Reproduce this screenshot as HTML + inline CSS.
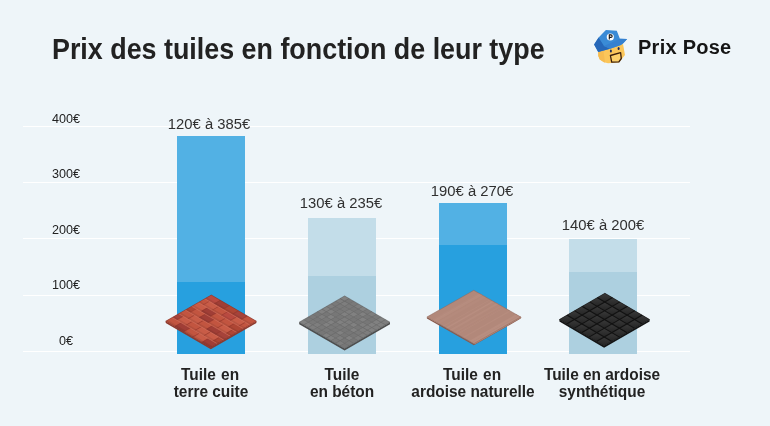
<!DOCTYPE html>
<html><head><meta charset="utf-8">
<style>
html,body{margin:0;padding:0;}
body{width:770px;height:426px;background:#EEF5F9;position:relative;overflow:hidden;font-family:"Liberation Sans",sans-serif;color:#222;}
.a{position:absolute;white-space:nowrap;}
.a,.ax,.val,.cat{filter:grayscale(1);}
.title{left:52px;top:32.2px;font-size:29.4px;font-weight:bold;color:#222;line-height:34px;transform-origin:0 0;transform:scaleX(0.914);}
.logo{left:638px;top:35.5px;font-size:20px;letter-spacing:0.26px;font-weight:bold;color:#151515;line-height:22px;}
.grid{position:absolute;left:23px;width:667px;height:1px;background:#fff;}
.ax{position:absolute;width:40px;left:46px;text-align:center;font-size:12.6px;line-height:14px;color:#222;}
.bar{position:absolute;width:68px;}
.val{position:absolute;width:120px;text-align:center;font-size:15.2px;transform:scaleX(0.975);line-height:17px;color:#303030;}
.ov{position:absolute;left:0;top:0;}
.cat{position:absolute;width:160px;text-align:center;font-size:16.4px;font-weight:bold;line-height:17px;color:#222;transform:scaleX(0.94);}
</style></head><body>
<div class="a title">Prix des tuiles en fonction de leur type</div>
<div class="a logo">Prix Pose</div>

<div class="grid" style="top:126px"></div>
<div class="grid" style="top:182px"></div>
<div class="grid" style="top:238px"></div>
<div class="grid" style="top:295px"></div>
<div class="grid" style="top:351px"></div>

<div class="ax" style="top:112px">400€</div>
<div class="ax" style="top:167px">300€</div>
<div class="ax" style="top:223px">200€</div>
<div class="ax" style="top:278px">100€</div>
<div class="ax" style="top:334px">0€</div>

<!-- bars -->
<div class="bar" style="left:177px;top:136px;height:218px;background:#52B1E4"></div>
<div class="bar" style="left:177px;top:282px;height:72px;background:#27A0DF"></div>

<div class="bar" style="left:308px;top:218px;height:136px;background:#C3DDE9"></div>
<div class="bar" style="left:308px;top:276px;height:78px;background:#ADD0E0"></div>

<div class="bar" style="left:439px;top:203px;height:151px;background:#52B1E4"></div>
<div class="bar" style="left:439px;top:245px;height:109px;background:#27A0DF"></div>

<div class="bar" style="left:569px;top:239px;height:115px;background:#C3DDE9"></div>
<div class="bar" style="left:569px;top:272px;height:82px;background:#ADD0E0"></div>

<div class="val" style="left:149px;top:114.8px">120€ à 385€</div>
<div class="val" style="left:280.5px;top:193.6px">130€ à 235€</div>
<div class="val" style="left:412px;top:182.2px">190€ à 270€</div>
<div class="val" style="left:543px;top:215.8px">140€ à 200€</div>

<svg class="ov" width="770" height="426" viewBox="0 0 770 426"><polygon points="165.7,321.2 210.79999999999995,347.4 256.4,321.2 256.4,323.0 210.79999999999995,349.2 165.7,323.0" fill="#8E3A2E"/>
<g transform="matrix(9.0200,5.2400,-6.5143,3.7429,211.30,295.00)"><rect x="0" y="0" width="5" height="7" fill="#B44C3E"/><rect x="0.00" y="0" width="1.00" height="1" fill="#B94A40"/><rect x="0.00" y="0.7" width="1.00" height="0.3" fill="#000" fill-opacity="0.08"/><rect x="1.00" y="0" width="1.00" height="1" fill="#A03E36"/><rect x="1.00" y="0.7" width="1.00" height="0.3" fill="#000" fill-opacity="0.08"/><rect x="0.96" y="0" width="0.08" height="1" fill="#8A3228" fill-opacity="0.6"/><rect x="2.00" y="0" width="1.00" height="1" fill="#AE4634"/><rect x="2.00" y="0.7" width="1.00" height="0.3" fill="#000" fill-opacity="0.08"/><rect x="1.96" y="0" width="0.08" height="1" fill="#8A3228" fill-opacity="0.6"/><rect x="3.00" y="0" width="1.00" height="1" fill="#A6433A"/><rect x="3.00" y="0.7" width="1.00" height="0.3" fill="#000" fill-opacity="0.08"/><rect x="2.96" y="0" width="0.08" height="1" fill="#8A3228" fill-opacity="0.6"/><rect x="4.00" y="0" width="1.00" height="1" fill="#C25540"/><rect x="4.00" y="0.7" width="1.00" height="0.3" fill="#000" fill-opacity="0.08"/><rect x="3.96" y="0" width="0.08" height="1" fill="#8A3228" fill-opacity="0.6"/><rect x="0.00" y="1" width="0.50" height="1" fill="#C25540"/><rect x="0.00" y="1.7" width="0.50" height="0.3" fill="#000" fill-opacity="0.08"/><rect x="0.50" y="1" width="1.00" height="1" fill="#C85C47"/><rect x="0.50" y="1.7" width="1.00" height="0.3" fill="#000" fill-opacity="0.08"/><rect x="0.46" y="1" width="0.08" height="1" fill="#8A3228" fill-opacity="0.6"/><rect x="1.50" y="1" width="1.00" height="1" fill="#C25540"/><rect x="1.50" y="1.7" width="1.00" height="0.3" fill="#000" fill-opacity="0.08"/><rect x="1.46" y="1" width="0.08" height="1" fill="#8A3228" fill-opacity="0.6"/><rect x="2.50" y="1" width="1.00" height="1" fill="#B94A40"/><rect x="2.50" y="1.7" width="1.00" height="0.3" fill="#000" fill-opacity="0.08"/><rect x="2.46" y="1" width="0.08" height="1" fill="#8A3228" fill-opacity="0.6"/><rect x="3.50" y="1" width="1.00" height="1" fill="#C85C47"/><rect x="3.50" y="1.7" width="1.00" height="0.3" fill="#000" fill-opacity="0.08"/><rect x="3.46" y="1" width="0.08" height="1" fill="#8A3228" fill-opacity="0.6"/><rect x="4.50" y="1" width="0.50" height="1" fill="#C25540"/><rect x="4.50" y="1.7" width="0.50" height="0.3" fill="#000" fill-opacity="0.08"/><rect x="4.46" y="1" width="0.08" height="1" fill="#8A3228" fill-opacity="0.6"/><rect x="0" y="0.94" width="5" height="0.12" fill="#D87A66" fill-opacity="0.55"/><rect x="0.00" y="2" width="1.00" height="1" fill="#C85C47"/><rect x="0.00" y="2.7" width="1.00" height="0.3" fill="#000" fill-opacity="0.08"/><rect x="1.00" y="2" width="1.00" height="1" fill="#A03E36"/><rect x="1.00" y="2.7" width="1.00" height="0.3" fill="#000" fill-opacity="0.08"/><rect x="0.96" y="2" width="0.08" height="1" fill="#8A3228" fill-opacity="0.6"/><rect x="2.00" y="2" width="1.00" height="1" fill="#C25540"/><rect x="2.00" y="2.7" width="1.00" height="0.3" fill="#000" fill-opacity="0.08"/><rect x="1.96" y="2" width="0.08" height="1" fill="#8A3228" fill-opacity="0.6"/><rect x="3.00" y="2" width="1.00" height="1" fill="#C25540"/><rect x="3.00" y="2.7" width="1.00" height="0.3" fill="#000" fill-opacity="0.08"/><rect x="2.96" y="2" width="0.08" height="1" fill="#8A3228" fill-opacity="0.6"/><rect x="4.00" y="2" width="1.00" height="1" fill="#AE4634"/><rect x="4.00" y="2.7" width="1.00" height="0.3" fill="#000" fill-opacity="0.08"/><rect x="3.96" y="2" width="0.08" height="1" fill="#8A3228" fill-opacity="0.6"/><rect x="0" y="1.94" width="5" height="0.12" fill="#D87A66" fill-opacity="0.55"/><rect x="0.00" y="3" width="0.50" height="1" fill="#AE4634"/><rect x="0.00" y="3.7" width="0.50" height="0.3" fill="#000" fill-opacity="0.08"/><rect x="0.50" y="3" width="1.00" height="1" fill="#C25540"/><rect x="0.50" y="3.7" width="1.00" height="0.3" fill="#000" fill-opacity="0.08"/><rect x="0.46" y="3" width="0.08" height="1" fill="#8A3228" fill-opacity="0.6"/><rect x="1.50" y="3" width="1.00" height="1" fill="#A03E36"/><rect x="1.50" y="3.7" width="1.00" height="0.3" fill="#000" fill-opacity="0.08"/><rect x="1.46" y="3" width="0.08" height="1" fill="#8A3228" fill-opacity="0.6"/><rect x="2.50" y="3" width="1.00" height="1" fill="#C25540"/><rect x="2.50" y="3.7" width="1.00" height="0.3" fill="#000" fill-opacity="0.08"/><rect x="2.46" y="3" width="0.08" height="1" fill="#8A3228" fill-opacity="0.6"/><rect x="3.50" y="3" width="1.00" height="1" fill="#C85C47"/><rect x="3.50" y="3.7" width="1.00" height="0.3" fill="#000" fill-opacity="0.08"/><rect x="3.46" y="3" width="0.08" height="1" fill="#8A3228" fill-opacity="0.6"/><rect x="4.50" y="3" width="0.50" height="1" fill="#AE4634"/><rect x="4.50" y="3.7" width="0.50" height="0.3" fill="#000" fill-opacity="0.08"/><rect x="4.46" y="3" width="0.08" height="1" fill="#8A3228" fill-opacity="0.6"/><rect x="0" y="2.94" width="5" height="0.12" fill="#D87A66" fill-opacity="0.55"/><rect x="0.00" y="4" width="1.00" height="1" fill="#C25540"/><rect x="0.00" y="4.7" width="1.00" height="0.3" fill="#000" fill-opacity="0.08"/><rect x="1.00" y="4" width="1.00" height="1" fill="#C85C47"/><rect x="1.00" y="4.7" width="1.00" height="0.3" fill="#000" fill-opacity="0.08"/><rect x="0.96" y="4" width="0.08" height="1" fill="#8A3228" fill-opacity="0.6"/><rect x="2.00" y="4" width="1.00" height="1" fill="#C25540"/><rect x="2.00" y="4.7" width="1.00" height="0.3" fill="#000" fill-opacity="0.08"/><rect x="1.96" y="4" width="0.08" height="1" fill="#8A3228" fill-opacity="0.6"/><rect x="3.00" y="4" width="1.00" height="1" fill="#A03E36"/><rect x="3.00" y="4.7" width="1.00" height="0.3" fill="#000" fill-opacity="0.08"/><rect x="2.96" y="4" width="0.08" height="1" fill="#8A3228" fill-opacity="0.6"/><rect x="4.00" y="4" width="1.00" height="1" fill="#A6433A"/><rect x="4.00" y="4.7" width="1.00" height="0.3" fill="#000" fill-opacity="0.08"/><rect x="3.96" y="4" width="0.08" height="1" fill="#8A3228" fill-opacity="0.6"/><rect x="0" y="3.94" width="5" height="0.12" fill="#D87A66" fill-opacity="0.55"/><rect x="0.00" y="5" width="0.50" height="1" fill="#A6433A"/><rect x="0.00" y="5.7" width="0.50" height="0.3" fill="#000" fill-opacity="0.08"/><rect x="0.50" y="5" width="1.00" height="1" fill="#C85C47"/><rect x="0.50" y="5.7" width="1.00" height="0.3" fill="#000" fill-opacity="0.08"/><rect x="0.46" y="5" width="0.08" height="1" fill="#8A3228" fill-opacity="0.6"/><rect x="1.50" y="5" width="1.00" height="1" fill="#C25540"/><rect x="1.50" y="5.7" width="1.00" height="0.3" fill="#000" fill-opacity="0.08"/><rect x="1.46" y="5" width="0.08" height="1" fill="#8A3228" fill-opacity="0.6"/><rect x="2.50" y="5" width="1.00" height="1" fill="#C85C47"/><rect x="2.50" y="5.7" width="1.00" height="0.3" fill="#000" fill-opacity="0.08"/><rect x="2.46" y="5" width="0.08" height="1" fill="#8A3228" fill-opacity="0.6"/><rect x="3.50" y="5" width="1.00" height="1" fill="#C85C47"/><rect x="3.50" y="5.7" width="1.00" height="0.3" fill="#000" fill-opacity="0.08"/><rect x="3.46" y="5" width="0.08" height="1" fill="#8A3228" fill-opacity="0.6"/><rect x="4.50" y="5" width="0.50" height="1" fill="#AE4634"/><rect x="4.50" y="5.7" width="0.50" height="0.3" fill="#000" fill-opacity="0.08"/><rect x="4.46" y="5" width="0.08" height="1" fill="#8A3228" fill-opacity="0.6"/><rect x="0" y="4.94" width="5" height="0.12" fill="#D87A66" fill-opacity="0.55"/><rect x="0.00" y="6" width="1.00" height="1" fill="#C25540"/><rect x="0.00" y="6.7" width="1.00" height="0.3" fill="#000" fill-opacity="0.08"/><rect x="1.00" y="6" width="1.00" height="1" fill="#A03E36"/><rect x="1.00" y="6.7" width="1.00" height="0.3" fill="#000" fill-opacity="0.08"/><rect x="0.96" y="6" width="0.08" height="1" fill="#8A3228" fill-opacity="0.6"/><rect x="2.00" y="6" width="1.00" height="1" fill="#C25540"/><rect x="2.00" y="6.7" width="1.00" height="0.3" fill="#000" fill-opacity="0.08"/><rect x="1.96" y="6" width="0.08" height="1" fill="#8A3228" fill-opacity="0.6"/><rect x="3.00" y="6" width="1.00" height="1" fill="#C85C47"/><rect x="3.00" y="6.7" width="1.00" height="0.3" fill="#000" fill-opacity="0.08"/><rect x="2.96" y="6" width="0.08" height="1" fill="#8A3228" fill-opacity="0.6"/><rect x="4.00" y="6" width="1.00" height="1" fill="#A03E36"/><rect x="4.00" y="6.7" width="1.00" height="0.3" fill="#000" fill-opacity="0.08"/><rect x="3.96" y="6" width="0.08" height="1" fill="#8A3228" fill-opacity="0.6"/><rect x="0" y="5.94" width="5" height="0.12" fill="#D87A66" fill-opacity="0.55"/></g>
<polygon points="211.3,295.0 256.4,321.2 210.79999999999995,347.4 165.7,321.2" fill="none" stroke="#7E2E24" stroke-width="0.6" stroke-opacity="0.8"/>
<polygon points="299.2,322.2 344.6,348.5 390.0,322.2 390.0,324.2 344.6,350.5 299.2,324.2" fill="#4E4E4E"/>
<g transform="matrix(4.5400,2.6300,-4.5400,2.6300,344.60,295.90)"><rect x="0" y="0" width="10" height="10" fill="#7C7C7C"/><rect x="0.08" y="0.08" width="0.84" height="0.84" fill="#818181"/><rect x="1.08" y="0.08" width="0.84" height="0.84" fill="#777777"/><rect x="2.08" y="0.08" width="0.84" height="0.84" fill="#797979"/><rect x="3.08" y="0.08" width="0.84" height="0.84" fill="#7E7E7E"/><rect x="4.08" y="0.08" width="0.84" height="0.84" fill="#818181"/><rect x="5.08" y="0.08" width="0.84" height="0.84" fill="#797979"/><rect x="6.08" y="0.08" width="0.84" height="0.84" fill="#7E7E7E"/><rect x="7.08" y="0.08" width="0.84" height="0.84" fill="#797979"/><rect x="8.08" y="0.08" width="0.84" height="0.84" fill="#818181"/><rect x="9.08" y="0.08" width="0.84" height="0.84" fill="#7E7E7E"/><rect x="0.08" y="1.08" width="0.84" height="0.84" fill="#7E7E7E"/><rect x="1.08" y="1.08" width="0.84" height="0.84" fill="#7E7E7E"/><rect x="2.08" y="1.08" width="0.84" height="0.84" fill="#797979"/><rect x="3.08" y="1.08" width="0.84" height="0.84" fill="#777777"/><rect x="4.08" y="1.08" width="0.84" height="0.84" fill="#777777"/><rect x="5.08" y="1.08" width="0.84" height="0.84" fill="#818181"/><rect x="6.08" y="1.08" width="0.84" height="0.84" fill="#777777"/><rect x="7.08" y="1.08" width="0.84" height="0.84" fill="#777777"/><rect x="8.08" y="1.08" width="0.84" height="0.84" fill="#818181"/><rect x="9.08" y="1.08" width="0.84" height="0.84" fill="#818181"/><rect x="0.08" y="2.08" width="0.84" height="0.84" fill="#797979"/><rect x="1.08" y="2.08" width="0.84" height="0.84" fill="#797979"/><rect x="2.08" y="2.08" width="0.84" height="0.84" fill="#797979"/><rect x="3.08" y="2.08" width="0.84" height="0.84" fill="#7E7E7E"/><rect x="4.08" y="2.08" width="0.84" height="0.84" fill="#818181"/><rect x="5.08" y="2.08" width="0.84" height="0.84" fill="#777777"/><rect x="6.08" y="2.08" width="0.84" height="0.84" fill="#818181"/><rect x="7.08" y="2.08" width="0.84" height="0.84" fill="#777777"/><rect x="8.08" y="2.08" width="0.84" height="0.84" fill="#818181"/><rect x="9.08" y="2.08" width="0.84" height="0.84" fill="#7E7E7E"/><rect x="0.08" y="3.08" width="0.84" height="0.84" fill="#7E7E7E"/><rect x="1.08" y="3.08" width="0.84" height="0.84" fill="#777777"/><rect x="2.08" y="3.08" width="0.84" height="0.84" fill="#797979"/><rect x="3.08" y="3.08" width="0.84" height="0.84" fill="#818181"/><rect x="4.08" y="3.08" width="0.84" height="0.84" fill="#797979"/><rect x="5.08" y="3.08" width="0.84" height="0.84" fill="#777777"/><rect x="6.08" y="3.08" width="0.84" height="0.84" fill="#777777"/><rect x="7.08" y="3.08" width="0.84" height="0.84" fill="#7E7E7E"/><rect x="8.08" y="3.08" width="0.84" height="0.84" fill="#7E7E7E"/><rect x="9.08" y="3.08" width="0.84" height="0.84" fill="#818181"/><rect x="0.08" y="4.08" width="0.84" height="0.84" fill="#818181"/><rect x="1.08" y="4.08" width="0.84" height="0.84" fill="#818181"/><rect x="2.08" y="4.08" width="0.84" height="0.84" fill="#777777"/><rect x="3.08" y="4.08" width="0.84" height="0.84" fill="#777777"/><rect x="4.08" y="4.08" width="0.84" height="0.84" fill="#7E7E7E"/><rect x="5.08" y="4.08" width="0.84" height="0.84" fill="#7E7E7E"/><rect x="6.08" y="4.08" width="0.84" height="0.84" fill="#818181"/><rect x="7.08" y="4.08" width="0.84" height="0.84" fill="#777777"/><rect x="8.08" y="4.08" width="0.84" height="0.84" fill="#7E7E7E"/><rect x="9.08" y="4.08" width="0.84" height="0.84" fill="#7E7E7E"/><rect x="0.08" y="5.08" width="0.84" height="0.84" fill="#818181"/><rect x="1.08" y="5.08" width="0.84" height="0.84" fill="#777777"/><rect x="2.08" y="5.08" width="0.84" height="0.84" fill="#818181"/><rect x="3.08" y="5.08" width="0.84" height="0.84" fill="#777777"/><rect x="4.08" y="5.08" width="0.84" height="0.84" fill="#818181"/><rect x="5.08" y="5.08" width="0.84" height="0.84" fill="#7E7E7E"/><rect x="6.08" y="5.08" width="0.84" height="0.84" fill="#777777"/><rect x="7.08" y="5.08" width="0.84" height="0.84" fill="#818181"/><rect x="8.08" y="5.08" width="0.84" height="0.84" fill="#797979"/><rect x="9.08" y="5.08" width="0.84" height="0.84" fill="#7E7E7E"/><rect x="0.08" y="6.08" width="0.84" height="0.84" fill="#777777"/><rect x="1.08" y="6.08" width="0.84" height="0.84" fill="#7E7E7E"/><rect x="2.08" y="6.08" width="0.84" height="0.84" fill="#797979"/><rect x="3.08" y="6.08" width="0.84" height="0.84" fill="#818181"/><rect x="4.08" y="6.08" width="0.84" height="0.84" fill="#797979"/><rect x="5.08" y="6.08" width="0.84" height="0.84" fill="#797979"/><rect x="6.08" y="6.08" width="0.84" height="0.84" fill="#777777"/><rect x="7.08" y="6.08" width="0.84" height="0.84" fill="#777777"/><rect x="8.08" y="6.08" width="0.84" height="0.84" fill="#777777"/><rect x="9.08" y="6.08" width="0.84" height="0.84" fill="#7E7E7E"/><rect x="0.08" y="7.08" width="0.84" height="0.84" fill="#797979"/><rect x="1.08" y="7.08" width="0.84" height="0.84" fill="#777777"/><rect x="2.08" y="7.08" width="0.84" height="0.84" fill="#777777"/><rect x="3.08" y="7.08" width="0.84" height="0.84" fill="#818181"/><rect x="4.08" y="7.08" width="0.84" height="0.84" fill="#797979"/><rect x="5.08" y="7.08" width="0.84" height="0.84" fill="#777777"/><rect x="6.08" y="7.08" width="0.84" height="0.84" fill="#818181"/><rect x="7.08" y="7.08" width="0.84" height="0.84" fill="#777777"/><rect x="8.08" y="7.08" width="0.84" height="0.84" fill="#818181"/><rect x="9.08" y="7.08" width="0.84" height="0.84" fill="#777777"/><rect x="0.08" y="8.08" width="0.84" height="0.84" fill="#797979"/><rect x="1.08" y="8.08" width="0.84" height="0.84" fill="#797979"/><rect x="2.08" y="8.08" width="0.84" height="0.84" fill="#7E7E7E"/><rect x="3.08" y="8.08" width="0.84" height="0.84" fill="#797979"/><rect x="4.08" y="8.08" width="0.84" height="0.84" fill="#797979"/><rect x="5.08" y="8.08" width="0.84" height="0.84" fill="#797979"/><rect x="6.08" y="8.08" width="0.84" height="0.84" fill="#797979"/><rect x="7.08" y="8.08" width="0.84" height="0.84" fill="#7E7E7E"/><rect x="8.08" y="8.08" width="0.84" height="0.84" fill="#777777"/><rect x="9.08" y="8.08" width="0.84" height="0.84" fill="#797979"/><rect x="0.08" y="9.08" width="0.84" height="0.84" fill="#818181"/><rect x="1.08" y="9.08" width="0.84" height="0.84" fill="#818181"/><rect x="2.08" y="9.08" width="0.84" height="0.84" fill="#7E7E7E"/><rect x="3.08" y="9.08" width="0.84" height="0.84" fill="#797979"/><rect x="4.08" y="9.08" width="0.84" height="0.84" fill="#777777"/><rect x="5.08" y="9.08" width="0.84" height="0.84" fill="#818181"/><rect x="6.08" y="9.08" width="0.84" height="0.84" fill="#818181"/><rect x="7.08" y="9.08" width="0.84" height="0.84" fill="#797979"/><rect x="8.08" y="9.08" width="0.84" height="0.84" fill="#7E7E7E"/><rect x="9.08" y="9.08" width="0.84" height="0.84" fill="#777777"/><rect x="0" y="0.94" width="10" height="0.12" fill="#6A6A6A"/><rect x="0.94" y="0" width="0.12" height="10" fill="#6A6A6A"/><rect x="0" y="1.94" width="10" height="0.12" fill="#6A6A6A"/><rect x="1.94" y="0" width="0.12" height="10" fill="#6A6A6A"/><rect x="0" y="2.94" width="10" height="0.12" fill="#6A6A6A"/><rect x="2.94" y="0" width="0.12" height="10" fill="#6A6A6A"/><rect x="0" y="3.94" width="10" height="0.12" fill="#6A6A6A"/><rect x="3.94" y="0" width="0.12" height="10" fill="#6A6A6A"/><rect x="0" y="4.94" width="10" height="0.12" fill="#6A6A6A"/><rect x="4.94" y="0" width="0.12" height="10" fill="#6A6A6A"/><rect x="0" y="5.94" width="10" height="0.12" fill="#6A6A6A"/><rect x="5.94" y="0" width="0.12" height="10" fill="#6A6A6A"/><rect x="0" y="6.94" width="10" height="0.12" fill="#6A6A6A"/><rect x="6.94" y="0" width="0.12" height="10" fill="#6A6A6A"/><rect x="0" y="7.94" width="10" height="0.12" fill="#6A6A6A"/><rect x="7.94" y="0" width="0.12" height="10" fill="#6A6A6A"/><rect x="0" y="8.94" width="10" height="0.12" fill="#6A6A6A"/><rect x="8.94" y="0" width="0.12" height="10" fill="#6A6A6A"/></g>
<polygon points="344.6,295.9 390.0,322.2 344.6,348.5 299.2,322.2" fill="none" stroke="#555555" stroke-width="0.6" stroke-opacity="0.8"/>
<polygon points="426.9,317.0 473.8999999999999,343.7 520.8,317.0 520.8,318.6 473.8999999999999,345.3 426.9,318.6" fill="#8A5A4C"/>
<g transform="matrix(4.7000,2.6700,-4.6900,2.6700,473.80,290.30)"><rect x="0" y="0" width="10" height="10" fill="#B2887A"/><rect x="9.00" y="0" width="0.50" height="10" fill="#B88E80"/><rect x="3.98" y="0" width="0.33" height="10" fill="#B88E80"/><rect x="6.34" y="0" width="0.18" height="10" fill="#B68C7E"/><rect x="9.85" y="0" width="0.35" height="10" fill="#B68C7E"/><rect x="3.40" y="0" width="0.17" height="10" fill="#B68C7E"/><rect x="5.67" y="0" width="0.39" height="10" fill="#B48A7C"/><rect x="6.14" y="0" width="0.18" height="10" fill="#AF8477"/><rect x="6.14" y="0" width="0.22" height="10" fill="#B48A7C"/><rect x="9.55" y="0" width="0.42" height="10" fill="#B88E80"/><rect x="1.23" y="0" width="0.53" height="10" fill="#B88E80"/><rect x="4.80" y="0" width="0.29" height="10" fill="#AF8477"/><rect x="1.02" y="0" width="0.30" height="10" fill="#B48A7C"/><rect x="4.79" y="0" width="0.46" height="10" fill="#B68C7E"/><rect x="2.05" y="0" width="0.58" height="10" fill="#B48A7C"/><rect x="1.47" y="0" width="0.39" height="10" fill="#B68C7E"/><rect x="7.58" y="0" width="0.28" height="10" fill="#B68C7E"/></g>
<polygon points="473.8,290.3 520.8,317.0 473.8999999999999,343.7 426.9,317.0" fill="none" stroke="#8E6558" stroke-width="0.6" stroke-opacity="0.8"/>
<polygon points="559.4,319.5 604.1,345.8 649.6,319.5 649.6,321.5 604.1,347.8 559.4,321.5" fill="#141414"/>
<g transform="matrix(7.4500,4.3833,-7.5833,4.3833,604.90,293.20)"><defs><linearGradient id="sg" x1="0" y1="0" x2="1" y2="1"><stop offset="0" stop-color="#393939"/><stop offset="1" stop-color="#252525"/></linearGradient></defs><rect x="0" y="0" width="6" height="6" fill="#2A2A2A"/><rect x="0" y="0" width="1" height="1" fill="url(#sg)"/><rect x="0" y="1" width="1" height="1" fill="url(#sg)"/><rect x="0" y="2" width="1" height="1" fill="url(#sg)"/><rect x="0" y="3" width="1" height="1" fill="url(#sg)"/><rect x="0" y="4" width="1" height="1" fill="url(#sg)"/><rect x="0" y="5" width="1" height="1" fill="url(#sg)"/><rect x="1" y="0" width="1" height="1" fill="url(#sg)"/><rect x="1" y="1" width="1" height="1" fill="url(#sg)"/><rect x="1" y="2" width="1" height="1" fill="url(#sg)"/><rect x="1" y="3" width="1" height="1" fill="url(#sg)"/><rect x="1" y="4" width="1" height="1" fill="url(#sg)"/><rect x="1" y="5" width="1" height="1" fill="url(#sg)"/><rect x="2" y="0" width="1" height="1" fill="url(#sg)"/><rect x="2" y="1" width="1" height="1" fill="url(#sg)"/><rect x="2" y="2" width="1" height="1" fill="url(#sg)"/><rect x="2" y="3" width="1" height="1" fill="url(#sg)"/><rect x="2" y="4" width="1" height="1" fill="url(#sg)"/><rect x="2" y="5" width="1" height="1" fill="url(#sg)"/><rect x="3" y="0" width="1" height="1" fill="url(#sg)"/><rect x="3" y="1" width="1" height="1" fill="url(#sg)"/><rect x="3" y="2" width="1" height="1" fill="url(#sg)"/><rect x="3" y="3" width="1" height="1" fill="url(#sg)"/><rect x="3" y="4" width="1" height="1" fill="url(#sg)"/><rect x="3" y="5" width="1" height="1" fill="url(#sg)"/><rect x="4" y="0" width="1" height="1" fill="url(#sg)"/><rect x="4" y="1" width="1" height="1" fill="url(#sg)"/><rect x="4" y="2" width="1" height="1" fill="url(#sg)"/><rect x="4" y="3" width="1" height="1" fill="url(#sg)"/><rect x="4" y="4" width="1" height="1" fill="url(#sg)"/><rect x="4" y="5" width="1" height="1" fill="url(#sg)"/><rect x="5" y="0" width="1" height="1" fill="url(#sg)"/><rect x="5" y="1" width="1" height="1" fill="url(#sg)"/><rect x="5" y="2" width="1" height="1" fill="url(#sg)"/><rect x="5" y="3" width="1" height="1" fill="url(#sg)"/><rect x="5" y="4" width="1" height="1" fill="url(#sg)"/><rect x="5" y="5" width="1" height="1" fill="url(#sg)"/><rect x="0" y="0.9299999999999999" width="6" height="0.14" fill="#121212"/><rect x="0" y="1.93" width="6" height="0.14" fill="#121212"/><rect x="0" y="2.93" width="6" height="0.14" fill="#121212"/><rect x="0" y="3.93" width="6" height="0.14" fill="#121212"/><rect x="0" y="4.93" width="6" height="0.14" fill="#121212"/><rect x="0.9299999999999999" y="0" width="0.14" height="6" fill="#121212"/><rect x="1.93" y="0" width="0.14" height="6" fill="#121212"/><rect x="2.93" y="0" width="0.14" height="6" fill="#121212"/><rect x="3.93" y="0" width="0.14" height="6" fill="#121212"/><rect x="4.93" y="0" width="0.14" height="6" fill="#121212"/></g>
<polygon points="604.9,293.2 649.6,319.5 604.1,345.8 559.4,319.5" fill="none" stroke="#0E0E0E" stroke-width="0.6" stroke-opacity="0.8"/>

<g>
 <polygon points="598.2,51.6 598.3,56 599.8,59.5 604,62.3 608,63.3 619,62.5 625,55 623,44" fill="#FBC65A"/>
 <polygon points="598.2,51.6 598.3,56 599.8,59.5 604,62.3 605,62.5 603.5,51" fill="#F6BC52"/>
 <ellipse cx="610.9" cy="50.9" rx="1.0" ry="1.5" fill="#1B2A5A"/>
 <ellipse cx="618.6" cy="48.6" rx="1.0" ry="1.5" fill="#1B2A5A"/>
 <path d="M610.4,55.5 L620.6,52.7 L621.3,58.5 L618.9,61.8 L611.7,62.2 Z" fill="#FCD06A" stroke="#3B1F0C" stroke-width="1.3" stroke-linejoin="round"/>
 <polygon points="594.1,44.6 598.6,37.6 605.9,30.1 616.8,30.8 619.9,38.8 627.1,39.1 623.5,43.0 620.9,45.1 610.1,48.7 598.2,51.9" fill="#3A8BD6"/>
 <polygon points="594.1,44.6 598.6,37.6 604,46 610.1,48.7 598.2,51.9" fill="#2667B8"/>
 <polygon points="604,46 619.9,38.8 627.1,39.1 623.5,43.0 620.9,45.1 610.1,48.7" fill="#3581D0"/>
 <circle cx="610.3" cy="37.0" r="3.6" fill="#fff"/>
 <path d="M609.3,39.6 V34.9 H610.9 A1.25,1.25 0 0 1 610.9,37.4 H609.3" fill="none" stroke="#111" stroke-width="1.1"/>
</g>
</svg>
<div class="cat" style="left:131px;top:366px"><span style="word-spacing:1px;position:relative;left:-1px">Tuile en</span><br>terre cuite</div>
<div class="cat" style="left:262px;top:366px">Tuile<br>en béton</div>
<div class="cat" style="left:393px;top:366px"><span style="word-spacing:1px;position:relative;left:-1px">Tuile en</span><br>ardoise naturelle</div>
<div class="cat" style="left:522px;top:366px">Tuile en ardoise<br>synthétique</div>

</body></html>
